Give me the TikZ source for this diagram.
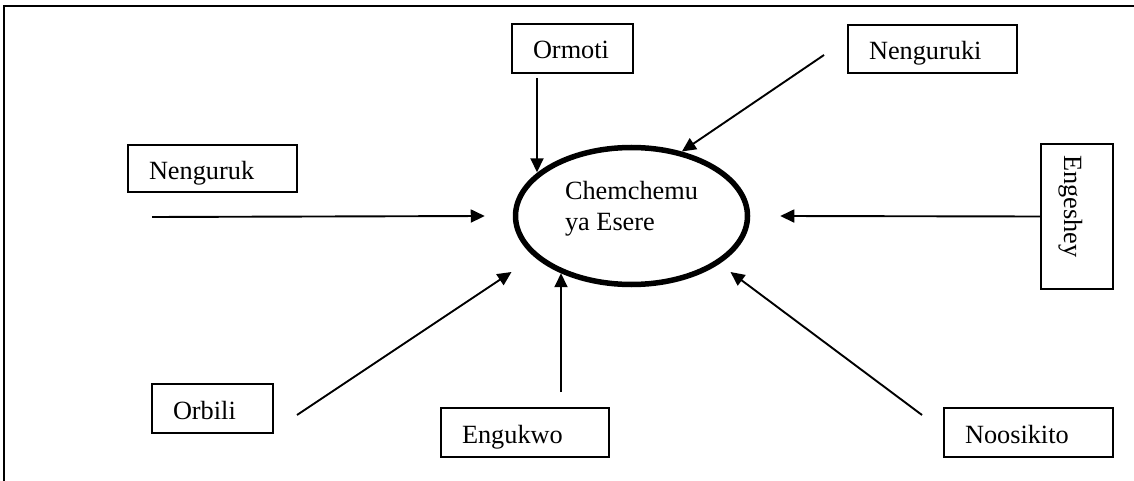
\documentclass[tikz,border=0pt]{standalone}
\usepackage{fontspec}
\setmainfont{Liberation Serif}
\usetikzlibrary{shapes.geometric,arrows.meta,calc}
\tikzset{
  txt/.style={font=\fontsize{26.3}{31}\selectfont},
  lbl/.style={txt, draw, line width=2pt, rectangle, inner xsep=21pt, inner ysep=0pt,
              align=left, outer sep=0pt, text height=24pt, text depth=3pt},
  conn/.style={line width=1.9pt, -{Triangle[length=14pt,width=13pt]}},
  frameline/.style={line width=2.5pt}
}
\begin{document}
\begin{tikzpicture}[x=1pt,y=-1pt]
\useasboundingbox (0,0) rectangle (1134,481);
\draw[frameline] (4,481) -- (4,6) -- (1134,6);

% central ellipse
\node[ellipse, draw, line width=5.5pt, minimum width=232pt, minimum height=137pt, inner sep=0pt] (spring) at (631.5,216) {};
\node[txt, align=left, inner sep=0pt] (springtext) at (631.5,208.5) {Chemchemu\\ya Esere};

% boxes
\node[lbl, text width=79pt, minimum height=49pt] (ormoti) at (572.5,48.5) {Ormoti};
\node[lbl, text width=127pt, minimum height=48pt] (nenguruki) at (932.5,49) {Nenguruki};
\node[lbl, text width=127pt, minimum height=47pt] (nenguruk) at (212.5,168.5) {Nenguruk};
\node[lbl, text width=79pt, minimum height=49pt] (orbili) at (212.5,408.5) {Orbili};
\node[lbl, text width=126pt, minimum height=49pt] (engukwo) at (525,432.5) {Engukwo};
\node[lbl, text width=127pt, minimum height=49pt] (noosikito) at (1028.5,432.5) {Noosikito};
\node[draw, line width=2pt, rectangle, outer sep=0pt, minimum width=72pt, minimum height=145pt] (engeshey) at (1077,216.5) {};
\node[txt, rotate=-90, anchor=base west, inner sep=0pt] (engesheytext) at (1064,155) {Engeshey};

% free ends of connectors
\coordinate (ormotistart) at ($(ormoti.south west)+(25,5)$);
\coordinate (nengurukistart) at ($(nenguruki.north west)+(-24,30)$);
\coordinate (nengurukstart) at ($(nenguruk.south west)+(24,25)$);
\coordinate (nengurukend) at ($(spring.west)+(-28,0)$);
\coordinate (engesheyend) at ($(spring.east)+(30,0)$);
\coordinate (orbilistart) at ($(orbili.north east)+(24,31)$);
\coordinate (orbiliend) at ($(spring.center)+(-120,56)$);
\coordinate (engukwostart) at ($(engukwo.north)+(36,-16)$);
\coordinate (noosikitostart) at ($(noosikito.north west)+(-22,7)$);
\coordinate (noosikitoend) at ($(spring.center)+(99,56)$);

% connectors
\draw[conn] (ormotistart) -- (ormotistart |- spring.155.6);
\draw[conn] (nengurukistart) -- (spring.52);
\draw[conn] (nengurukstart) -- (nengurukend);
\draw[conn] (engeshey.west) -- (engesheyend);
\draw[conn] (orbilistart) -- (orbiliend);
\draw[conn] (engukwostart) -- (engukwostart |- spring.219);
\draw[conn] (noosikitostart) -- (noosikitoend);
\end{tikzpicture}
\end{document}
